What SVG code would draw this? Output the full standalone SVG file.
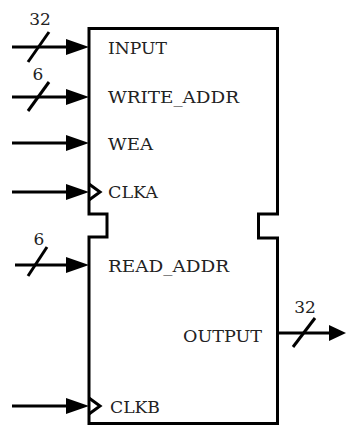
<svg xmlns="http://www.w3.org/2000/svg" width="346" height="426" viewBox="0 0 346 426">
<style>
.ln{stroke:#000;stroke-width:3;fill:none}
.ah{fill:#000}
.t{font-family:"DejaVu Serif","Liberation Serif",serif;font-size:17px;fill:#222}
.n{font-family:"DejaVu Serif","Liberation Serif",serif;font-size:17px;fill:#222;text-anchor:middle}
</style>
<rect width="346" height="426" fill="#fff"/>
<g id="block">
<path class="ln" d="M89,28.5 H277.5 V214 H258.5 V238 H277.5 V423.5 H89 V237 H107 V214 H89 Z"/>
<path class="ln" d="M89,184 L100,192 L89,200"/>
<path class="ln" d="M89,398 L100,406 L89,414"/>
<text class="t" x="108" y="54" textLength="59" lengthAdjust="spacingAndGlyphs">INPUT</text>
<text class="t" x="108" y="103" textLength="131" lengthAdjust="spacingAndGlyphs">WRITE_ADDR</text>
<text class="t" x="108" y="150" textLength="45" lengthAdjust="spacingAndGlyphs">WEA</text>
<text class="t" x="108" y="198" textLength="50" lengthAdjust="spacingAndGlyphs">CLKA</text>
<text class="t" x="108" y="272" textLength="121" lengthAdjust="spacingAndGlyphs">READ_ADDR</text>
<text class="t" x="183" y="342" textLength="79" lengthAdjust="spacingAndGlyphs">OUTPUT</text>
<text class="t" x="110" y="413" textLength="50" lengthAdjust="spacingAndGlyphs">CLKB</text>
</g>
<g id="connectors">
<line class="ln" x1="12" y1="47" x2="70" y2="47"/>
<polygon class="ah" points="66,39 89,47 66,55"/>
<line class="ln" x1="28" y1="62" x2="49" y2="32"/>
<text class="n" x="40" y="25">32</text>
<line class="ln" x1="12" y1="97" x2="70" y2="97"/>
<polygon class="ah" points="66,89 89,97 66,105"/>
<line class="ln" x1="28" y1="111" x2="49" y2="82"/>
<text class="n" x="38" y="80">6</text>
<line class="ln" x1="12" y1="143" x2="70" y2="143"/>
<polygon class="ah" points="66,135 89,143 66,151"/>
<line class="ln" x1="12" y1="192" x2="70" y2="192"/>
<polygon class="ah" points="66,184 89,192 66,200"/>
<line class="ln" x1="15" y1="265" x2="70" y2="265"/>
<polygon class="ah" points="66,257 89,265 66,273"/>
<line class="ln" x1="28" y1="276" x2="47" y2="247"/>
<text class="n" x="39" y="245">6</text>
<line class="ln" x1="277" y1="333" x2="333" y2="333"/>
<polygon class="ah" points="329,325 346,333 329,341"/>
<line class="ln" x1="293" y1="347" x2="315" y2="318"/>
<text class="n" x="305" y="313">32</text>
<line class="ln" x1="12" y1="406" x2="70" y2="406"/>
<polygon class="ah" points="66,398 89,406 66,414"/>
</g>
</svg>
